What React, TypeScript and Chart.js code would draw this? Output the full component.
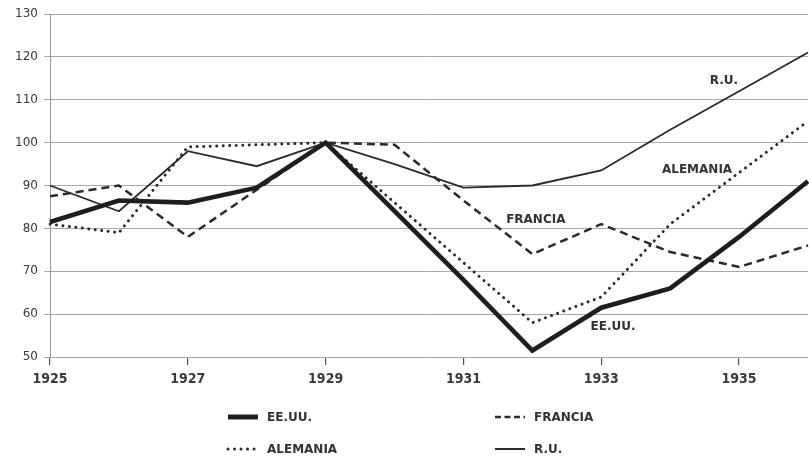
import React, { useEffect, useRef } from "react";
import { Chart, registerables } from "chart.js";

Chart.register(...registerables);

const years = ["1925", "1926", "1927", "1928", "1929", "1930", "1931", "1932", "1933", "1934", "1935", "1936"];
const eeuu = [81.5, 86.5, 86, 89.5, 100, 84, 68, 51.5, 61.5, 66, 78, 91];
const francia = [87.5, 90, 78, 89, 100, 99.5, 86.5, 74, 81, 74.5, 71, 76];
const alemania = [81, 79, 99, 99.5, 100, 86, 72, 58, 64, 81, 93, 105];
const ru = [90, 84, 98, 94.5, 100, 95, 89.5, 90, 93.5, 103, 112, 121];

const seriesNames = ["EE.UU.", "FRANCIA", "ALEMANIA", "R.U."];

// in-chart labels: [text, year, value]
const annotationText = ["R.U.", "ALEMANIA", "FRANCIA", "EE.UU."];
const annotationYear = [1934.78, 1934.39, 1932.05, 1933.17];
const annotationValue = [114.3, 93.7, 82, 57];

const INK = "#2a2a2a";
const GRID = "#a8a8a8";

const annotationPlugin = {
  id: "annotations",
  afterDatasetsDraw(chart: any) {
    const { ctx, scales } = chart;
    ctx.save();
    ctx.font = "bold 12px 'DejaVu Sans'";
    ctx.fillStyle = "#333";
    ctx.textAlign = "center";
    ctx.textBaseline = "middle";
    annotationText.forEach((t, i) => {
      const x = scales.x.getPixelForValue(annotationYear[i] - Number(years[0]));
      const y = scales.y.getPixelForValue(annotationValue[i]);
      ctx.fillText(t, x, y);
    });
    ctx.restore();
  },
};

const legendPlugin = {
  id: "gridLegend",
  afterDraw(chart: any) {
    const { ctx } = chart;
    const colX = [228, 495];
    const rowY = [417, 449];
    const sampleW = 30;
    ctx.save();
    chart.data.datasets.forEach((ds: any, i: number) => {
      const col = i % 2;
      const row = Math.floor(i / 2);
      const x = colX[col];
      const y = rowY[row];
      ctx.beginPath();
      ctx.strokeStyle = ds.borderColor;
      ctx.lineWidth = ds.legendWidth;
      ctx.lineCap = ds.borderCapStyle || "butt";
      ctx.setLineDash(ds.legendDash || []);
      ctx.moveTo(x, y);
      ctx.lineTo(x + sampleW, y);
      ctx.stroke();
      ctx.setLineDash([]);
      ctx.font = "bold 12px 'DejaVu Sans'";
      ctx.fillStyle = "#333";
      ctx.textAlign = "left";
      ctx.textBaseline = "middle";
      ctx.fillText(ds.label, x + 39, y + 1);
    });
    ctx.restore();
  },
};

export default function App() {
  const ref = useRef<HTMLCanvasElement>(null);

  useEffect(() => {
    const chart = new Chart(ref.current as HTMLCanvasElement, {
      type: "line",
      data: {
        labels: years,
        datasets: [
          {
            label: seriesNames[0],
            data: eeuu,
            borderColor: "#1e1e1e",
            borderWidth: 4.6,
            legendWidth: 5,
            borderJoinStyle: "miter",
            pointRadius: 0,
            tension: 0,
          } as any,
          {
            label: seriesNames[1],
            data: francia,
            borderColor: INK,
            borderWidth: 2.5,
            legendWidth: 2.5,
            borderDash: [8, 5],
            legendDash: [6, 3.5],
            pointRadius: 0,
            tension: 0,
          } as any,
          {
            label: seriesNames[2],
            data: alemania,
            borderColor: INK,
            borderWidth: 3,
            legendWidth: 3,
            borderDash: [0.01, 6.5],
            legendDash: [0.01, 6.5],
            borderCapStyle: "round",
            pointRadius: 0,
            tension: 0,
          } as any,
          {
            label: seriesNames[3],
            data: ru,
            borderColor: INK,
            borderWidth: 1.8,
            legendWidth: 2,
            pointRadius: 0,
            tension: 0,
          } as any,
        ],
      },
      options: {
        responsive: false,
        animation: false,
        events: [],
        layout: { padding: { top: 14, right: 1, bottom: 72, left: 0 } },
        plugins: {
          legend: { display: false },
          tooltip: { enabled: false },
        },
        scales: {
          x: {
            type: "category",
            offset: false,
            afterFit: (s: any) => {
              s.height = 30;
              s.paddingRight = 0;
              s.paddingLeft = 0;
            },
            grid: {
              drawOnChartArea: false,
              drawTicks: true,
              tickLength: 8,
              lineWidth: 1.2,
              color: (c: any) => (c.index % 2 === 0 ? "#555" : "rgba(0,0,0,0)"),
            },
            border: { display: false },
            ticks: {
              autoSkip: false,
              maxRotation: 0,
              padding: 6,
              color: "#3a3a3a",
              font: { family: "'DejaVu Sans Condensed', 'DejaVu Sans'", size: 14, weight: "bold" },
              callback: (_v: any, i: number) => (i % 2 === 0 ? years[i] : ""),
            },
          },
          y: {
            min: 50,
            max: 130,
            afterFit: (s: any) => {
              s.width = 50;
            },
            grid: {
              color: GRID,
              lineWidth: 1,
              tickLength: 6,
            },
            border: { display: true, color: "#999", width: 1 },
            ticks: {
              stepSize: 10,
              padding: 6,
              color: "#3a3a3a",
              font: { family: "'DejaVu Sans'", size: 12 },
            },
          },
        },
      },
      plugins: [annotationPlugin, legendPlugin],
    } as any);
    return () => chart.destroy();
  }, []);

  return (
    <div style={{ position: "absolute", left: 0, top: 0, width: 809, height: 459, background: "#fff" }}>
      <canvas ref={ref} width={809} height={459} style={{ width: 809, height: 459, display: "block" }} />
    </div>
  );
}
